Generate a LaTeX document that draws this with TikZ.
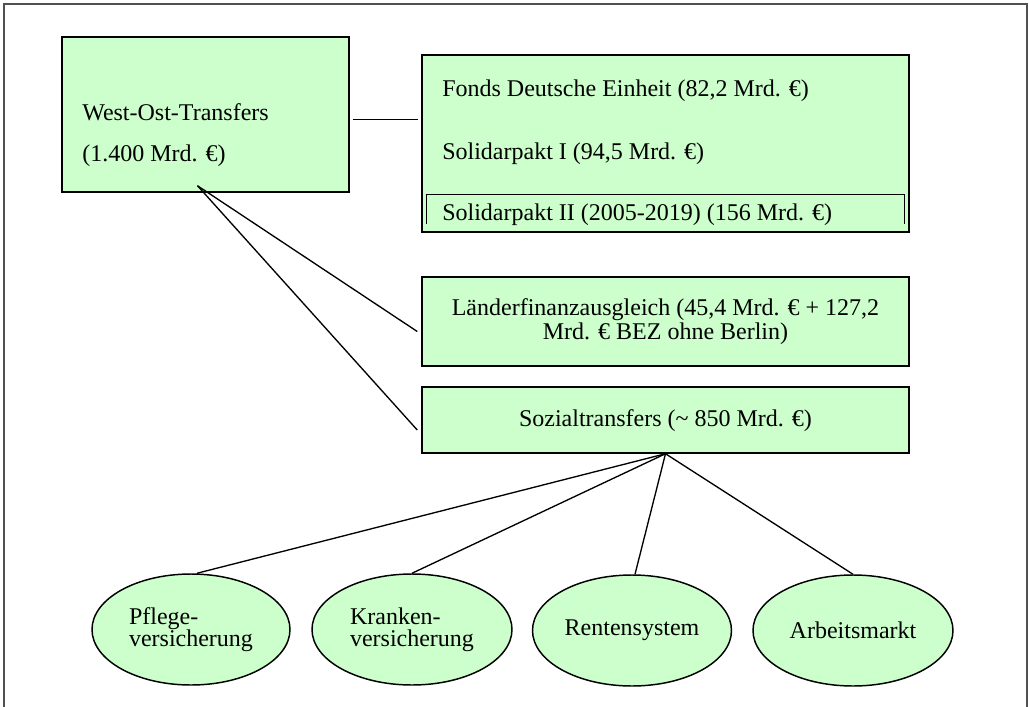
\documentclass[tikz,border=0pt]{standalone}
\usepackage{fontspec}
\setmainfont{Liberation Serif}
\usetikzlibrary{shapes.geometric,calc}
\definecolor{boxgreen}{HTML}{CCFFCC}
\definecolor{framegray}{HTML}{505050}
\begin{document}
\begin{tikzpicture}[x=0.75pt,y=-0.75pt,
  every node/.style={font=\fontsize{18}{17.25}\selectfont},
  greenbox/.style={draw=black,line width=1.1pt,fill=boxgreen,rectangle,inner sep=0pt},
  greenoval/.style={draw=black,line width=1.1pt,fill=boxgreen,ellipse,inner sep=0pt,align=left,font=\fontsize{18}{16.75}\selectfont},
  txt/.style={inner sep=0pt},
  link/.style={line width=1pt,draw=black},
  openbox/.style={line width=1.1pt,draw=black}]
\useasboundingbox (0,0) rectangle (1029,707);
% outer frame (open at the bottom)
\draw[framegray,line width=1.6pt] (4,707) -- (4,4) -- (1027,4) -- (1027,707);

% boxes
\node[greenbox,minimum width=215.25pt,minimum height=116.25pt] (west) at (205.5,114.5) {};
\node[greenbox,minimum width=365.25pt,minimum height=132.75pt] (fonds) at (665.5,143.5) {};
\node[greenbox,minimum width=365.25pt,minimum height=66.75pt] (laender) at (665.5,321.5) {};
\node[greenbox,minimum width=365.25pt,minimum height=49.5pt] (sozial) at (665.5,420) {};

% texts in boxes
\node[txt,anchor=base west] (westA) at (82,120) {West-Ost-Transfers};
\node[txt,anchor=base west] (westB) at (82,161) {(1.400 Mrd. €)};
\node[txt,anchor=base west] (fondsA) at (442,96) {Fonds Deutsche Einheit (82,2 Mrd. €)};
\node[txt,anchor=base west] (fondsB) at (442,159) {Solidarpakt I (94,5 Mrd. €)};
\node[txt,anchor=base west] (fondsC) at (442,220) {Solidarpakt II (2005-2019) (156 Mrd. €)};
\draw[openbox] ($(fonds.south west)+(5,-9)$) -- ($(fonds.south west)+(5,-38)$)
  -- ($(fonds.south east)+(-5,-38)$) -- ($(fonds.south east)+(-5,-9)$);
\node[txt,anchor=base] (laenderA) at (665.5,315) {Länderfinanzausgleich (45,4 Mrd. € + 127,2};
\node[txt,anchor=base] (laenderB) at (665.5,339) {Mrd. € BEZ ohne Berlin)};
\node[txt,anchor=base] (sozialA) at (665.5,426) {Sozialtransfers (\textasciitilde{} 850 Mrd. €)};

% ellipses
\node[greenoval,minimum width=148.5pt,minimum height=83.25pt] (pflege) at (191,629.5) {Pflege-\\versicherung};
\node[greenoval,minimum width=150pt,minimum height=83.25pt] (kranken) at (412,629.5) {Kranken-\\versicherung};
\node[greenoval,minimum width=149.25pt,minimum height=83.25pt] (renten) at (632,630.5) {Rentensystem};
\node[greenoval,minimum width=150pt,minimum height=83.25pt] (arbeit) at (853,630.5) {Arbeitsmarkt};

% connectors
\draw[link] ($(west.east)+(3,5)$) -- ($(west.east -| fonds.west)+(-3,5)$);
\draw[link] ($(west.south)+(-8,-7)$) -- ($(laender.west)+(-4,10)$);
\draw[link] ($(west.south)+(-8,-7)$) -- ($(sozial.west)+(-4,10)$);
\draw[link] (sozial.south) -- ($(pflege.north)+(6,0)$);
\draw[link] (sozial.south) -- (kranken.north);
\draw[link] (sozial.south) -- ($(renten.north)+(3,0)$);
\draw[link] (sozial.south) -- (arbeit.north);
\end{tikzpicture}
\end{document}
